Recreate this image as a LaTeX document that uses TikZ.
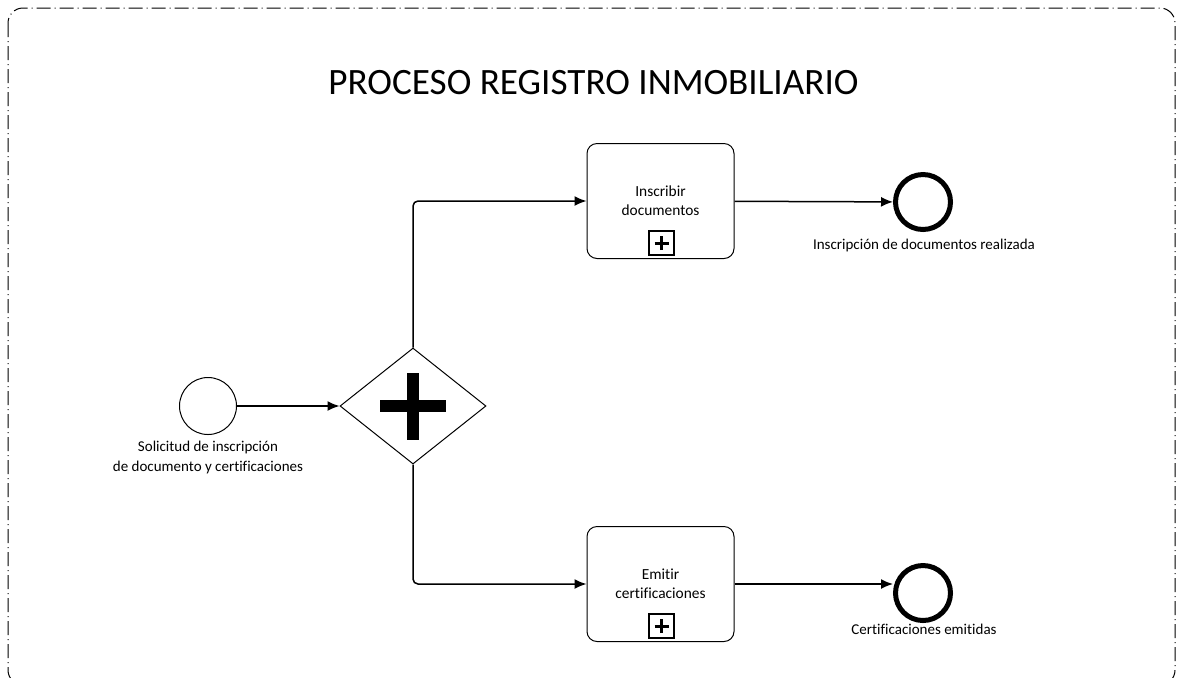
\documentclass[tikz,border=0pt]{standalone}
\usepackage{fontspec}
\setmainfont{Carlito}[Ligatures=NoCommon]
\usetikzlibrary{arrows.meta,positioning,shapes.geometric}
\tikzset{
  frame/.style={draw, line width=0.5pt, rounded corners=7.5pt,
                dash pattern=on 7pt off 2pt on 0.5pt off 2pt},
  task/.style={draw, rounded corners=5pt, align=center, line width=0.5pt,
               minimum width=73.5pt, minimum height=57.5pt, inner sep=2pt,
               font=\fontsize{7.7}{9.5}\selectfont},
  submark/.style={draw, line width=0.6pt, minimum width=12.5pt, minimum height=12pt,
                  inner sep=0pt,
                  path picture={
                    \draw[line width=1.5pt] ([xshift=-3.5pt]path picture bounding box.center)
                      -- ([xshift=3.5pt]path picture bounding box.center);
                    \draw[line width=1.5pt] ([yshift=-3.5pt]path picture bounding box.center)
                      -- ([yshift=3.5pt]path picture bounding box.center);}},
  startev/.style={draw, circle, line width=0.5pt, minimum size=28.5pt, inner sep=0pt},
  endev/.style={draw, circle, line width=2.5pt, minimum size=27.5pt, inner sep=0pt},
  gate/.style={draw, diamond, line width=0.5pt, minimum width=73pt, minimum height=58pt,
               inner sep=0pt,
               path picture={
                 \draw[line width=6pt] ([xshift=-16.5pt]path picture bounding box.center)
                   -- ([xshift=16.5pt]path picture bounding box.center);
                 \draw[line width=6pt] ([yshift=-16.75pt]path picture bounding box.center)
                   -- ([yshift=16.75pt]path picture bounding box.center);}},
  lbl/.style={align=center, inner sep=0pt, font=\fontsize{7.5}{10}\selectfont},
  flow/.style={-{Latex[length=6pt,width=5pt]}, line width=0.75pt, rounded corners=2.5pt}
}

\begin{document}
\begin{tikzpicture}[x=0.5pt,y=0.5pt]
  \useasboundingbox (0,0) rectangle (1178,-677);
  \draw[frame] (8,-8) rectangle (1175,-685);

  \node[font=\fontsize{18.6}{22}\selectfont] (title) at (593.5,-83) {PROCESO REGISTRO INMOBILIARIO};

  \node[startev] (start) at (208,-406) {};
  \node[lbl] (startlbl) at (208,-457) {Solicitud de inscripción\\de documento y certificaciones};
  \node[gate] (gw) at (413,-406) {};

  \node[task] (inscribir) at (660.5,-201) {Inscribir\\documentos};
  \node[submark] (inscribirmk) at (661.5,-243) {};
  \node[task] (emitir) at (660.5,-584) {Emitir\\certificaciones};
  \node[submark] (emitirmk) at (661.5,-626) {};

  \node[endev] (endins) at (923,-202) {};
  \node[lbl] (endinslbl) at (924,-245) {Inscripción de documentos realizada};
  \node[endev] (endcert) at (923,-593) {};
  \node[lbl] (endcertlbl) at (924,-629) {Certificaciones emitidas};

  \draw[flow] (start) -- (gw);
  \draw[flow] (gw.north) |- (inscribir);
  \draw[flow] (gw.south) |- (emitir);
  \draw[flow] (inscribir) -- (endins);
  \draw[flow] (emitir) -- (emitir -| endcert.west);
\end{tikzpicture}
\end{document}
